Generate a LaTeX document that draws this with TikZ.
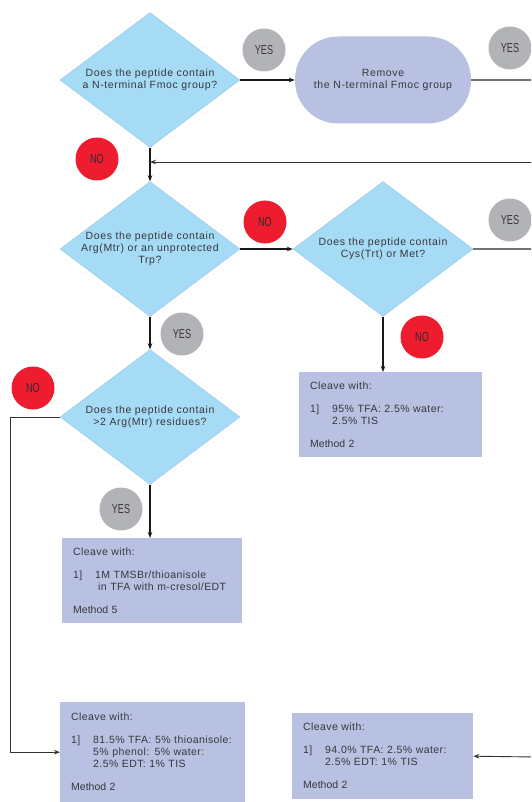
\documentclass[tikz,border=0pt]{standalone}
\usepackage{fontspec}
\setmainfont{Liberation Sans}
\newfontfamily\spacedfont[LetterSpace=6]{Liberation Sans}
\newfontfamily\boxfont[LetterSpace=4]{Liberation Sans}
\newfontfamily\condfont[FakeStretch=0.7]{Liberation Sans}
\usetikzlibrary{shapes.geometric,arrows.meta,positioning}
\definecolor{qblue}{RGB}{166,219,245}
\definecolor{qedge}{RGB}{150,200,235}
\definecolor{boxlav}{RGB}{184,193,225}
\definecolor{nored}{RGB}{237,28,46}
\definecolor{yesgray}{RGB}{178,179,182}
\definecolor{txtgray}{RGB}{55,55,60}

\begin{document}
\begin{tikzpicture}[x=1pt,y=-1pt,
    question/.style={diamond, aspect=1.333, fill=qblue, draw=qedge, line width=0.4pt,
        minimum width=180pt, minimum height=135pt, inner sep=-4pt,
        align=center, text=txtgray, font=\spacedfont\fontsize{10.5}{12}\selectfont},
    cleave/.style={rectangle, fill=boxlav, anchor=north west, inner xsep=11pt,
        align=left, text=txtgray, font=\boxfont\fontsize{10.5}{12}\selectfont},
    yes/.style={circle, fill=yesgray, minimum size=43pt, inner sep=0pt,
        text=txtgray, font=\condfont\fontsize{13}{13}\selectfont},
    no/.style={circle, fill=nored, minimum size=43pt, inner sep=0pt,
        text=txtgray!80!black, font=\condfont\fontsize{13}{13}\selectfont},
    flow/.style={line width=1.5pt, black!90, -{Stealth[length=6pt,width=4.5pt]}},
    back/.style={line width=0.9pt, black!80, -{Stealth[length=6pt,width=4.5pt]}},
    exit/.style={line width=1.1pt, black!55}]
    \clip (0,0) rectangle (531,802);

    % Questions
    \node[question] (d1) at (150,80) {Does the peptide contain\\a N-terminal Fmoc group?};
    \node[question] (d2) at (150,249) {Does the peptide contain\\Arg(Mtr) or an unprotected\\Trp?};
    \node[question] (d3) at (383,249) {Does the peptide contain\\Cys(Trt) or Met?};
    \node[question] (d4) at (150,417) {Does the peptide contain\\>2 Arg(Mtr) residues?};

    % Deprotection
    \node[rectangle, rounded corners=43pt, fill=boxlav, minimum width=176pt,
        minimum height=87pt, align=center, text=txtgray,
        font=\spacedfont\fontsize{10.5}{12}\selectfont] (pill) at (383,80)
        {Remove\\the N-terminal Fmoc group};

    % Cleavage cocktails
    \node[cleave, minimum width=183pt, minimum height=85pt, text width=161pt] (m2a) at (299,372)
        {Cleave with:\\[11pt]
        \makebox[22pt][l]{1]}95\% TFA: 2.5\% water:\\
        \hspace*{22pt}2.5\% TIS\\[11pt]
        \rmfamily Method 2};
    \node[cleave, minimum width=180pt, minimum height=85pt, text width=158pt] (m5) at (62,538)
        {Cleave with:\\[11pt]
        \makebox[22pt][l]{1]}1M TMSBr/thioanisole\\
        \hspace*{25pt}in TFA with m-cresol/EDT\\[11pt]
        \rmfamily Method 5};
    \node[cleave, minimum width=185pt, minimum height=100pt, text width=163pt] (m2b) at (60,702)
        {Cleave with:\\[11pt]
        \mbox{\makebox[22pt][l]{1]}81.5\% TFA: 5\% thioanisole:}\\
        \hspace*{22pt}5\% phenol: 5\% water:\\
        \hspace*{22pt}2.5\% EDT: 1\% TIS\\[11pt]
        \rmfamily Method 2};
    \node[cleave, minimum width=181pt, minimum height=86pt, text width=159pt] (m2c) at (292,713)
        {Cleave with:\\[11pt]
        \makebox[22pt][l]{1]}94.0\% TFA: 2.5\% water:\\
        \hspace*{22pt}2.5\% EDT: 1\% TIS\\[11pt]
        \rmfamily Method 2};

    % Answers
    \node[yes] (yes1) at (264,50) {YES};
    \node[yes] (yes2) at (510,48) {YES};
    \node[yes] (yes3) at (510,220) {YES};
    \node[yes] (yes4) at (182,334) {YES};
    \node[yes] (yes5) at (121,509) {YES};
    \node[no] (no1) at (97,159) {NO};
    \node[no] (no2) at (265,222) {NO};
    \node[no] (no3) at (422,337) {NO};
    \node[no] (no4) at (33,388) {NO};

    % Loose ends at the page edge
    \coordinate (r1) at (535,80);
    \coordinate (r2) at (535,162);
    \coordinate (j1) at (150,162);
    \coordinate (r3) at (535,249);
    \coordinate (r4) at (535,757);
    \coordinate (l1) at (10,417);

    % Connectors
    \draw[flow] (d1.east) -- (pill.west);
    \draw[exit] (pill.east) -- (r1);
    \draw[flow] (d1.south) -- (d2.north);
    \draw[back] (r2) -- (j1);
    \draw[flow] (d2.east) -- (d3.west);
    \draw[exit] (d3.east) -- (r3);
    \draw[flow] (d3.south) -- (m2a.north -| d3.south);
    \draw[flow] (d2.south) -- (d4.north);
    \draw[flow] (d4.south) -- (m5.north -| d4.south);
    \draw[back] (d4.west) -- (l1) |- (m2b.west);
    \draw[back] (r4) -- (m2c.east);
\end{tikzpicture}
\end{document}
